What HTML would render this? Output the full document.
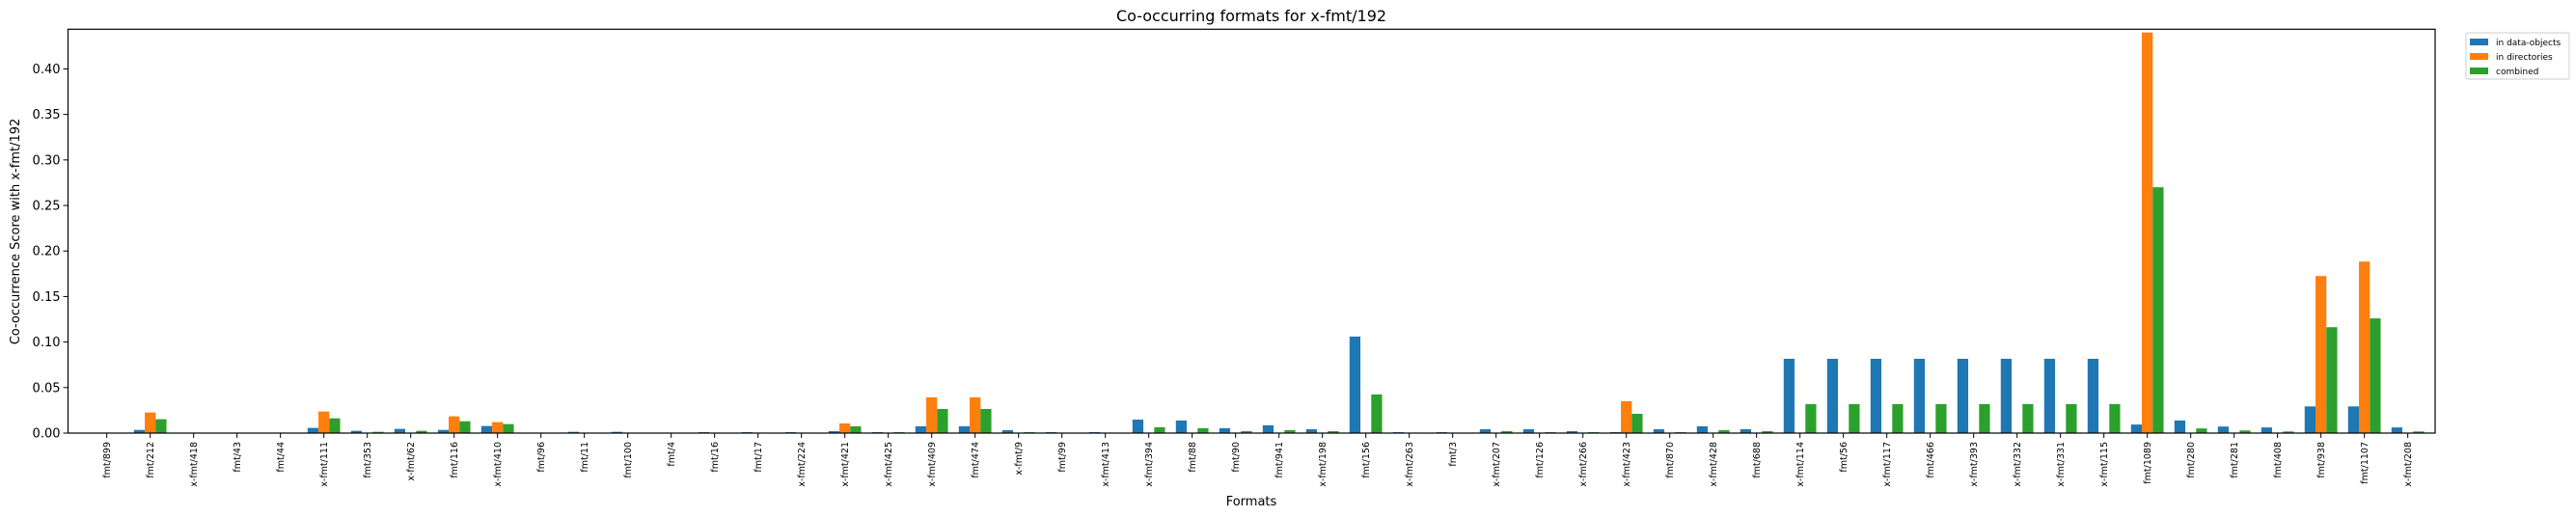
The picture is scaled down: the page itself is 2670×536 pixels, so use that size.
<!DOCTYPE html>
<html><head><meta charset="utf-8"><style>
body{margin:0;background:#fff;}
svg{display:block;font-family:"DejaVu Sans","Liberation Sans",sans-serif;}
</style></head><body>
<svg id="chart" width="2670" height="536" xmlns="http://www.w3.org/2000/svg">
<text x="1297" y="22" font-size="16" text-anchor="middle">Co-occurring formats for x-fmt/192</text>
<text x="0" y="0" font-size="13" text-anchor="middle" transform="translate(20,240) rotate(-90)">Co-occurrence Score with x-fmt/192</text>
<text x="1297" y="524" font-size="13" text-anchor="middle">Formats</text>
<g id="bars"></g>
<g id="axes"></g>
<g>
<rect x="2556" y="34" width="107" height="48" fill="#fff" stroke="#ccc" rx="2"/>
<rect x="2560" y="40" width="19" height="7" fill="#1f77b4"/>
<text x="2587" y="47" font-size="9">in data-objects</text>
<rect x="2560" y="55" width="19" height="7" fill="#ff7f0e"/>
<text x="2587" y="62" font-size="9">in directories</text>
<rect x="2560" y="70" width="19" height="7" fill="#2ca02c"/>
<text x="2587" y="77" font-size="9">combined</text>
</g>
</svg>
<script>
const categories = ["fmt/899","fmt/212","x-fmt/418","fmt/43","fmt/44","x-fmt/111","fmt/353","x-fmt/62","fmt/116","x-fmt/410","fmt/96","fmt/11","fmt/100","fmt/4","fmt/16","fmt/17","x-fmt/224","x-fmt/421","x-fmt/425","x-fmt/409","fmt/474","x-fmt/9","fmt/99","x-fmt/413","x-fmt/394","fmt/88","fmt/90","fmt/941","x-fmt/198","fmt/156","x-fmt/263","fmt/3","x-fmt/207","fmt/126","x-fmt/266","x-fmt/423","fmt/870","x-fmt/428","fmt/688","x-fmt/114","fmt/56","x-fmt/117","fmt/466","x-fmt/393","x-fmt/332","x-fmt/331","x-fmt/115","fmt/1089","fmt/280","fmt/281","fmt/408","fmt/938","fmt/1107","x-fmt/208"];
const dataObjects = [0,0.0035,0,0,0,0.0057,0.0025,0.0046,0.0035,0.0078,0,0.0014,0.0014,0.0005,0.001,0.001,0.001,0.0021,0.001,0.0074,0.0074,0.0032,0.001,0.001,0.0148,0.0138,0.0053,0.0085,0.0042,0.106,0.001,0.001,0.0042,0.0042,0.0021,0.001,0.0042,0.0074,0.0042,0.0816,0.0816,0.0816,0.0816,0.0816,0.0816,0.0816,0.0816,0.0094,0.0138,0.0072,0.0062,0.0293,0.0293,0.0062];
const directories = [0,0.0226,0,0,0,0.0237,0,0,0.0184,0.012,0,0,0,0,0,0,0,0.0106,0,0.0392,0.0392,0,0,0,0,0,0,0,0,0,0,0,0,0,0,0.035,0,0,0,0,0,0,0,0,0,0,0,0.44,0,0,0,0.1725,0.1884,0];
const combined = [0,0.0152,0,0,0,0.0162,0.0014,0.0025,0.013,0.0099,0,0,0,0,0,0,0,0.0074,0.001,0.0265,0.0265,0.001,0,0,0.0064,0.0053,0.0021,0.0032,0.0021,0.0424,0,0,0.0021,0.001,0.001,0.0212,0.001,0.0032,0.0021,0.0318,0.0318,0.0318,0.0318,0.0318,0.0318,0.0318,0.0318,0.27,0.0051,0.0029,0.0018,0.1163,0.126,0.0018];
const yTicks = [0,0.05,0.10,0.15,0.20,0.25,0.30,0.35,0.40];
const yTickLabels = ["0.00","0.05","0.10","0.15","0.20","0.25","0.30","0.35","0.40"];

const NS="http://www.w3.org/2000/svg";
const L=70.5,R=2524,T=30.3,B=449;
const xMin=-0.893,xMax=53.63,yMax=0.4436;
function xs(v){return L+(v-xMin)/(xMax-xMin)*(R-L);}
function ys(v){return B-v/yMax*(B-T);}
function mk(tag,attrs,parent){const e=document.createElementNS(NS,tag);for(const k in attrs)e.setAttribute(k,attrs[k]);parent.appendChild(e);return e;}
const bars=document.getElementById('bars'),axes=document.getElementById('axes');
const series=[[dataObjects,"#1f77b4",-0.25,"data-objects"],[directories,"#ff7f0e",0,"directories"],[combined,"#2ca02c",0.25,"combined"]];
const bw=0.25;
series.forEach(s=>{
  s[0].forEach((v,i)=>{
    if(v<=0)return;
    const x0=xs(i+s[2]-bw/2),x1=xs(i+s[2]+bw/2);
    const r=mk('rect',{x:x0,y:ys(v),width:x1-x0,height:B-ys(v),fill:s[1]},bars);
    
    
  });
});
const frame=mk('rect',{x:L,y:T,width:R-L,height:B-T,fill:'none',stroke:'#000','stroke-width':1.2},axes);


yTicks.forEach((v,i)=>{
  const y=ys(v);
  mk('line',{x1:L-5,x2:L,y1:y,y2:y,stroke:'#000'},axes);
  const t=mk('text',{x:L-8,y:y+4.5,'font-size':13,'text-anchor':'end'},axes);
  t.textContent=yTickLabels[i];
  
  
});
categories.forEach((c,i)=>{
  const x=xs(i);
  mk('line',{x1:x,x2:x,y1:B,y2:B+5,stroke:'#000'},axes);
  const t=mk('text',{x:0,y:0,'font-size':9.5,'text-anchor':'end',transform:`translate(${x+3.5},${B+9}) rotate(-90)`},axes);
  t.textContent=c;
  
  
});
</script>
</body></html>
